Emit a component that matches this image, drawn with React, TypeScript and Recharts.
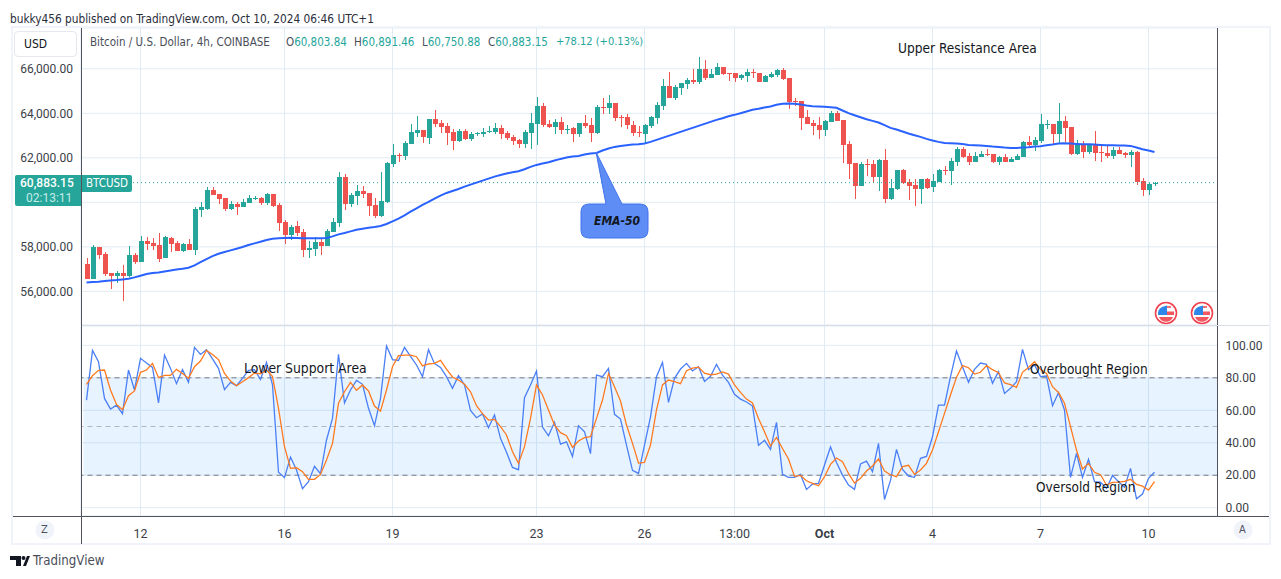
import { ComposedChart, Bar, Line, XAxis, YAxis, CartesianGrid, ReferenceArea, ReferenceLine } from 'recharts';

const opens = [
  57225, 56550, 57975, 57675, 56820, 56685, 56820, 56685, 57630, 57315,
  58260, 58170, 58080, 57495, 58395, 58170, 57810, 58125, 57855, 59655,
  59700, 60555, 60375, 60195, 59700, 59925, 59790, 59970, 60150, 60195,
  59970, 60375, 59880, 59115, 58530, 58935, 58665, 57855, 57900, 58215,
  58035, 58665, 59070, 61140, 59925, 60285, 60510, 60420, 59880, 59385,
  60015, 61725, 62130, 62085, 62625, 63120, 63255, 62895, 63750, 63570,
  63435, 63165, 62760, 63210, 62850, 63060, 63075, 63165, 63165, 63345,
  63120, 62940, 62805, 62625, 63120, 63525, 64335, 63525, 63390, 63615,
  63285, 63345, 63075, 63570, 63480, 63120, 64290, 64245, 64470, 63840,
  63840, 63480, 63165, 63075, 63435, 63795, 64335, 65235, 64695, 65145,
  65325, 65505, 65415, 66000, 65595, 65730, 66090, 65820, 65820, 65595,
  65685, 65850, 65820, 65415, 65640, 65730, 65955, 65595, 64560, 64560,
  63840, 63570, 63480, 63255, 63615, 64020, 63705, 62625, 61770, 60735,
  61725, 61725, 61140, 61905, 60150, 60600, 61455, 60915, 60780, 60600,
  61050, 60690, 60915, 61455, 61410, 61815, 62400, 62085, 61815, 62040,
  62175, 62175, 61815, 62040, 61815, 61905, 62040, 62715, 62580, 62760,
  63480, 63525, 63075, 63660, 63390, 62175, 62625, 62265, 62580, 62265,
  62220, 62085, 62355, 62220, 62130, 62265, 60960, 60555, 60803.84,
];

const highs = [
  57495, 58080, 58005, 57765, 56820, 56895, 57180, 58035, 57705, 58485,
  58440, 58395, 58620, 58485, 58440, 58260, 58170, 58350, 59790, 60015,
  60675, 60675, 60375, 60195, 60060, 60015, 60150, 60330, 60285, 60240,
  60420, 60375, 59970, 59205, 58980, 59160, 58785, 58260, 58440, 58395,
  58800, 59295, 61365, 61275, 60420, 60780, 60735, 60420, 60195, 61365,
  61815, 62625, 62220, 62760, 63525, 63885, 63255, 63750, 64155, 63705,
  63570, 63300, 63300, 63300, 63165, 63165, 63345, 63435, 63570, 63480,
  63210, 63030, 62850, 63255, 64020, 64740, 64470, 63705, 63750, 63840,
  63480, 63390, 63570, 63930, 63795, 64380, 64695, 64830, 64470, 63930,
  63975, 63660, 63435, 63525, 63885, 64515, 65550, 65865, 65280, 65370,
  65595, 66000, 66540, 66405, 66000, 66270, 66090, 65820, 65820, 65775,
  66000, 66000, 65820, 65730, 65865, 66000, 66045, 65595, 64695, 64560,
  64155, 63705, 63840, 63705, 64110, 64110, 63705, 62760, 61770, 61815,
  61950, 61905, 61950, 62400, 61050, 61455, 61500, 61050, 61050, 61050,
  61095, 61275, 61500, 61635, 61995, 62490, 62490, 62220, 62265, 62310,
  62400, 62175, 62085, 62175, 62040, 62175, 62760, 62985, 62940, 63975,
  63705, 63525, 64470, 63885, 63390, 62805, 62760, 62625, 63210, 62580,
  62535, 62490, 62490, 62265, 62355, 62310, 61095, 60870, 60891.46,
];

const lows = [
  56550, 56550, 57450, 56700, 56100, 56385, 55560, 56625, 57240, 57315,
  57855, 57855, 57315, 57495, 57765, 57810, 57765, 57855, 57630, 59340,
  59655, 60330, 59925, 59610, 59655, 59430, 59790, 59970, 60105, 59880,
  59880, 59775, 58710, 58125, 58305, 58485, 57540, 57495, 57585, 57630,
  58035, 58665, 58890, 59655, 59790, 59880, 60195, 59385, 59295, 59355,
  59955, 61590, 61815, 61905, 62625, 62940, 62670, 62625, 63390, 63120,
  62580, 62355, 62715, 62805, 62760, 62985, 62940, 63120, 63075, 62850,
  62805, 62580, 62445, 62445, 62400, 62580, 63390, 63345, 63075, 63075,
  63075, 62715, 62940, 63345, 62715, 63075, 63975, 63975, 63660, 63390,
  63300, 62985, 62940, 62670, 63345, 63525, 64155, 64695, 64605, 64830,
  65100, 65325, 65325, 65505, 65595, 65730, 65730, 65460, 65415, 65505,
  65415, 65595, 65415, 65415, 65595, 65640, 65505, 64200, 64335, 63255,
  63525, 63030, 62850, 62985, 63615, 63660, 61770, 61050, 60150, 60735,
  61185, 60870, 60510, 59970, 60105, 60555, 60825, 60105, 59835, 59925,
  60600, 60465, 60915, 61230, 60780, 61635, 61995, 61680, 61815, 62040,
  62085, 61770, 61680, 61815, 61815, 61905, 62040, 62535, 62310, 62670,
  63300, 62625, 62670, 62715, 62130, 62130, 61995, 62175, 61860, 61815,
  61995, 61950, 62175, 61995, 61590, 60780, 60285, 60330, 60750.88,
];

const closes = [
  56550, 58005, 57645, 56775, 56685, 56820, 56685, 57630, 57315, 58260,
  58125, 58035, 57450, 58440, 58125, 57810, 58125, 57855, 59700, 59790,
  60555, 60330, 60150, 59700, 59925, 59790, 60015, 60195, 60180, 59970,
  60375, 59835, 59070, 58530, 58890, 58620, 57855, 57945, 58215, 58035,
  58710, 59115, 61140, 59925, 60330, 60510, 60375, 59835, 59385, 60060,
  61770, 62130, 62100, 62670, 63165, 63255, 62940, 63750, 63525, 63390,
  63120, 62760, 63210, 62850, 63075, 63120, 63165, 63210, 63345, 63075,
  62895, 62760, 62625, 63165, 63570, 64335, 63480, 63390, 63615, 63255,
  63315, 63075, 63570, 63435, 63120, 64290, 64245, 64470, 63795, 63795,
  63480, 63120, 63135, 63480, 63840, 64380, 65235, 64695, 65190, 65370,
  65505, 65415, 66000, 65595, 65775, 66090, 65775, 65790, 65595, 65730,
  65865, 65820, 65415, 65685, 65775, 65955, 65550, 64515, 64530, 63795,
  63525, 63435, 63255, 63660, 64020, 63660, 62580, 61725, 60735, 61725,
  61695, 61140, 61905, 60150, 60645, 61455, 60855, 60735, 60600, 61050,
  60645, 60960, 61455, 61425, 61860, 62400, 62040, 61815, 62085, 62175,
  62130, 61815, 62040, 61815, 61950, 62085, 62715, 62580, 62805, 63525,
  63525, 63075, 63660, 63345, 62175, 62625, 62265, 62580, 62220, 62235,
  62085, 62355, 62175, 62130, 62265, 60915, 60555, 60825, 60883.15,
];

const ema50 = [
  56400, 56415, 56430, 56460, 56490, 56505, 56535, 56565, 56625, 56700,
  56775, 56820, 56850, 56895, 56940, 56985, 57015, 57060, 57165, 57315,
  57450, 57585, 57690, 57765, 57840, 57915, 57990, 58080, 58155, 58230,
  58305, 58365, 58380, 58395, 58410, 58395, 58380, 58380, 58380, 58380,
  58395, 58470, 58560, 58620, 58695, 58770, 58815, 58860, 58890, 58935,
  59025, 59145, 59265, 59415, 59580, 59730, 59880, 60015, 60165, 60300,
  60420, 60510, 60600, 60705, 60795, 60885, 60975, 61065, 61155, 61230,
  61290, 61350, 61395, 61485, 61590, 61680, 61740, 61800, 61875, 61950,
  62010, 62055, 62085, 62145, 62190, 62220, 62325, 62415, 62490, 62535,
  62565, 62595, 62610, 62640, 62715, 62805, 62895, 62985, 63075, 63165,
  63255, 63345, 63435, 63525, 63615, 63705, 63780, 63870, 63930, 64005,
  64080, 64155, 64200, 64260, 64305, 64380, 64425, 64440, 64425, 64395,
  64350, 64320, 64305, 64290, 64275, 64245, 64125, 64005, 63915, 63825,
  63735, 63660, 63585, 63465, 63345, 63270, 63180, 63090, 63015, 62940,
  62850, 62775, 62715, 62670, 62655, 62640, 62625, 62580, 62565, 62550,
  62535, 62505, 62490, 62460, 62445, 62445, 62460, 62475, 62505, 62520,
  62565, 62595, 62640, 62655, 62640, 62625, 62610, 62610, 62595, 62580,
  62565, 62565, 62550, 62550, 62535, 62460, 62385, 62325, 62265,
];

const stochK = [
  66.3, 96.9, 89.9, 67.3, 60.8, 63.2, 57.9, 84.8, 72.5, 92.0,
  89.1, 86.4, 64.5, 94.0, 85.8, 76.4, 85.0, 77.2, 98.7, 94.4,
  97.3, 91.6, 85.8, 72.7, 77.2, 75.1, 79.7, 84.6, 85.0, 79.0,
  89.5, 75.6, 21.8, 18.5, 31.2, 23.2, 11.7, 16.0, 25.5, 20.9,
  41.7, 55.0, 94.4, 64.5, 72.5, 78.4, 76.0, 61.2, 50.5, 67.3,
  99.6, 91.2, 90.7, 98.7, 93.2, 87.9, 80.7, 97.3, 88.7, 86.4,
  80.7, 73.5, 81.3, 75.6, 59.9, 55.4, 57.7, 49.3, 57.1, 42.7,
  34.1, 24.8, 23.4, 67.7, 75.6, 84.2, 49.7, 44.3, 52.6, 39.2,
  40.6, 31.6, 50.5, 46.8, 33.3, 81.7, 80.7, 85.8, 57.5, 54.6,
  38.6, 23.0, 21.1, 38.6, 56.0, 80.7, 89.5, 64.9, 79.7, 85.4,
  88.9, 84.2, 86.8, 77.8, 80.9, 88.3, 81.7, 77.2, 69.8, 66.9,
  65.1, 62.6, 38.4, 41.5, 35.9, 52.6, 20.5, 18.7, 18.7, 20.5,
  11.3, 14.6, 15.0, 26.3, 37.4, 27.9, 20.1, 14.0, 11.3, 26.9,
  28.7, 22.2, 39.6, 5.1, 16.8, 35.9, 23.6, 19.5, 18.7, 30.4,
  31.6, 43.7, 63.2, 63.2, 80.7, 96.5, 86.8, 77.2, 85.2, 89.1,
  88.3, 76.6, 83.8, 70.4, 73.5, 77.6, 97.5, 85.0, 87.9, 80.7,
  81.1, 62.8, 70.8, 60.2, 18.7, 33.5, 18.7, 29.8, 16.0, 15.8,
  11.9, 19.9, 16.0, 12.5, 24.2, 5.5, 8.4, 18.1, 21.8,
];

const stochD = [
  76.0, 81.3, 84.6, 84.8, 72.5, 63.6, 60.4, 69.0, 71.9, 83.4,
  84.8, 88.9, 80.1, 81.5, 81.5, 85.2, 82.7, 79.7, 86.8, 90.3,
  96.9, 94.4, 91.2, 82.7, 78.0, 75.1, 77.6, 80.1, 82.9, 82.5,
  84.8, 80.7, 61.2, 37.6, 24.2, 24.6, 22.2, 17.5, 17.5, 20.5,
  29.4, 39.6, 64.3, 71.4, 77.2, 72.3, 75.6, 71.9, 62.6, 59.5,
  72.5, 86.8, 93.6, 94.0, 94.0, 93.0, 87.3, 88.5, 88.9, 90.7,
  85.4, 80.5, 78.6, 76.0, 71.4, 62.8, 57.9, 54.0, 54.4, 49.9,
  44.8, 34.5, 27.3, 37.6, 55.0, 75.6, 69.4, 60.2, 50.9, 46.2,
  44.3, 37.2, 41.1, 43.1, 43.7, 55.0, 66.3, 82.7, 74.5, 65.7,
  50.9, 39.6, 27.5, 27.9, 38.6, 60.2, 75.6, 78.6, 77.6, 76.4,
  84.4, 86.0, 86.6, 82.9, 81.9, 82.3, 83.6, 82.3, 75.6, 71.0,
  66.9, 64.5, 55.0, 46.8, 38.0, 43.3, 36.5, 30.0, 19.3, 19.9,
  16.6, 15.0, 13.5, 19.1, 26.7, 30.6, 28.3, 21.1, 15.2, 18.1,
  22.6, 25.7, 30.0, 22.6, 20.3, 19.1, 25.3, 26.1, 20.5, 23.2,
  27.3, 35.5, 46.8, 58.1, 69.4, 80.3, 87.5, 86.2, 82.3, 83.4,
  87.5, 85.0, 83.1, 76.8, 75.8, 74.1, 83.4, 86.4, 89.9, 85.2,
  82.7, 74.5, 71.0, 64.3, 49.9, 35.5, 23.8, 27.3, 21.8, 20.3,
  14.0, 15.6, 15.8, 16.2, 17.5, 14.4, 13.3, 10.9, 16.0,
];

const priceTicks = [56000, 58000, 60000, 62000, 64000, 66000];
const oscTicks = [0, 20, 40, 60, 80, 100];
const timeTickIndexes = [9, 33, 51, 75, 93, 108, 123, 141, 159, 177];
const timeTickLabels = ['12', '16', '19', '23', '26', '13:00', 'Oct', '4', '7', '10'];

const GREEN = '#26a69a';
const RED = '#ef5350';
const GRID = '#e1ebf3';
const AXIS_LINE = '#50535e';
const TEXT = '#131722';
const UI_FONT = '"DejaVu Sans Condensed", "DejaVu Sans", sans-serif';
const AXIS_FONT = 'Roboto, sans-serif';
const EMPTY_BARS = 10;

const rows = [...opens, ...Array(EMPTY_BARS).fill(null)].map((o, i) => ({
  i,
  o,
  h: o === null ? null : highs[i],
  l: o === null ? null : lows[i],
  c: o === null ? null : closes[i],
  ema: o === null ? null : ema50[i],
  k: o === null ? null : stochK[i],
  d: o === null ? null : stochD[i],
}));

const fmtPrice = (v: number) =>
  v.toLocaleString('en-US', { minimumFractionDigits: 2, maximumFractionDigits: 2 });

// the last price badge sits on top of the 60,000 label, so only its grid line shows
const fmtPriceTick = (v: number) => (v === 60000 ? '' : fmtPrice(v));

// wick + body, Bar hands us the low..high box from its own scale
function Candle(props: any) {
  const { x, y, width, height, payload } = props;
  if (payload.o === null || !height) return null;
  const top = Math.min(y, y + height);
  const pxPerUnit = Math.abs(height) / (payload.h - payload.l);
  const toY = (v: number) => top + (payload.h - v) * pxPerUnit;
  const color = payload.c >= payload.o ? GREEN : RED;
  const bodyTop = Math.round(toY(Math.max(payload.o, payload.c)));
  const bodyBottom = Math.round(toY(Math.min(payload.o, payload.c)));
  const wickTop = Math.round(top);
  const wickBottom = Math.round(top + Math.abs(height));
  const left = Math.round(x);
  return (
    <g>
      <rect x={left + 2} y={wickTop} width={1} height={Math.max(wickBottom - wickTop, 1)} fill={color} />
      <rect x={left} y={bodyTop} width={width} height={Math.max(bodyBottom - bodyTop, 1)} fill={color} />
    </g>
  );
}

function TimeTick(props: any) {
  const { x, y, payload } = props;
  const label = timeTickLabels[timeTickIndexes.indexOf(payload.value)];
  return (
    <text
      x={x}
      y={y + 14}
      textAnchor="middle"
      fontFamily={AXIS_FONT}
      fontSize={12.5}
      fontWeight={label === 'Oct' ? 700 : 400}
      fill="#3b3e48"
    >
      {label}
    </text>
  );
}

function Flag({ cx, cy }: { cx: number; cy: number }) {
  return (
    <g>
      <circle cx={cx} cy={cy} r={10.5} fill="#fff" stroke="#f0424f" strokeWidth={1.6} />
      <path d={`M${cx - 7} ${cy + 4}h14a7.5 7.5 0 0 1 -14 0z`} fill="#f0575f" />
      <rect x={cx + 1} y={cy - 1.5} width={7} height={3.5} fill="#f0575f" />
      <rect x={cx + 1} y={cy - 7} width={4} height={2} fill="#f0757b" />
      <path d={`M${cx + 1} ${cy - 7.5}v9.5h-9a8 8 0 0 1 4 -8z`} fill="#2e86e8" />
    </g>
  );
}

function Label({ x, y, children, color = TEXT, size = 12, style = {} }: any) {
  return (
    <div
      style={{
        position: 'absolute',
        left: x,
        top: y,
        color,
        fontSize: size,
        fontFamily: UI_FONT,
        lineHeight: '16px',
        whiteSpace: 'nowrap',
        ...style,
      }}
    >
      {children}
    </div>
  );
}

const legendValues = [
  { x: 286, head: 'O', value: '60,803.84' },
  { x: 354, head: 'H', value: '60,891.46' },
  { x: 422, head: 'L', value: '60,750.88' },
  { x: 488, head: 'C', value: '60,883.15' },
];

export default function App() {
  return (
    <div style={{ position: 'fixed', left: 0, top: 0, width: 1281, height: 579, background: '#fff', overflow: 'hidden' }}>
      {/* price pane */}
      <div style={{ position: 'absolute', left: 0, top: 0 }}>
        <ComposedChart
          width={1281}
          height={325}
          data={rows}
          margin={{ top: 28, right: 63.5, bottom: 0, left: 0 }}
          barSize={5}
        >
          <CartesianGrid stroke={GRID} strokeWidth={1} />
          <XAxis dataKey="i" hide scale="band" ticks={timeTickIndexes} interval={0} padding={{ left: 2.5, right: 0 }} />
          <YAxis
            width={81}
            domain={[54486, 67833]}
            ticks={priceTicks}
            tickFormatter={fmtPriceTick}
            axisLine={false}
            tickLine={false}
            tickMargin={2}
            allowDataOverflow
            tick={{ fontFamily: AXIS_FONT, fontSize: 12, fill: '#3b3e48' }}
          />
          <ReferenceLine y={60883.15} stroke={GREEN} strokeDasharray="1 3" />
          <Bar dataKey={(r: any) => (r.o === null ? null : [r.l, r.h])} shape={Candle} isAnimationActive={false} />
          <Line dataKey="ema" stroke="#2962ff" strokeWidth={2} dot={false} isAnimationActive={false} />
        </ComposedChart>
      </div>

      {/* oscillator pane */}
      <div style={{ position: 'absolute', left: 0, top: 0 }}>
        <ComposedChart
          width={1281}
          height={544}
          data={rows}
          margin={{ top: 326, right: 0, bottom: 0, left: 81 }}
        >
          <CartesianGrid stroke={GRID} strokeWidth={1} />
          <XAxis
            dataKey="i"
            height={28}
            scale="band"
            ticks={timeTickIndexes}
            interval={0}
            padding={{ left: 2.5, right: 0 }}
            axisLine={false}
            tickLine={false}
            tick={TimeTick}
          />
          <YAxis
            orientation="right"
            width={63.5}
            domain={[-5.1, 111.9]}
            ticks={oscTicks}
            tickFormatter={fmtPrice}
            axisLine={false}
            tickLine={false}
            tickMargin={2}
            allowDataOverflow
            tick={{ fontFamily: AXIS_FONT, fontSize: 12, fill: '#3b3e48' }}
          />
          <ReferenceArea y1={20} y2={80} fill="#2196f3" fillOpacity={0.11} stroke="none" />
          <ReferenceLine y={80} stroke="#787b86" strokeDasharray="5 4" />
          <ReferenceLine y={50} stroke="#b2b5be" strokeDasharray="5 4" />
          <ReferenceLine y={20} stroke="#787b86" strokeDasharray="5 4" />
          <Line dataKey="k" stroke="#4a7ff5" strokeWidth={1.3} dot={false} isAnimationActive={false} />
          <Line dataKey="d" stroke="#ff7a1f" strokeWidth={1.3} dot={false} isAnimationActive={false} />
        </ComposedChart>
      </div>

      {/* frame, callout, flags */}
      <svg width={1281} height={579} style={{ position: 'absolute', left: 0, top: 0, pointerEvents: 'none' }}>
        <rect x={12} y={27} width={1258} height={517} fill="none" stroke="#f0f3fa" strokeWidth={2} />
        <line x1={81.5} y1={28} x2={81.5} y2={544} stroke={AXIS_LINE} />
        <line x1={1217.5} y1={28} x2={1217.5} y2={516} stroke={AXIS_LINE} />
        <line x1={13} y1={516.5} x2={1269} y2={516.5} stroke={AXIS_LINE} />
        <line x1={82} y1={325.5} x2={1269} y2={325.5} stroke="#d9dde6" />
        <path
          d="M596 152 L606 204 L589 204 Q581 204 581 212 L581 230 Q581 238 589 238 L640 238 Q648 238 648 230 L648 212 Q648 204 640 204 L622 204 Z"
          fill="#5e8df5"
          stroke="#3f73ee"
        />
        <Flag cx={1166} cy={313} />
        <Flag cx={1202} cy={313} />
        <circle cx={45} cy={530} r={9.5} fill="#f0f3fa" />
        <circle cx={1243} cy={530} r={9.5} fill="#f0f3fa" />
        <path d="M10 556h11v10h-5v-6h-6z M23 566l4-10h3l-4 10z" fill="#131722" />
        <circle cx={23.5} cy={558} r={2} fill="#131722" />
      </svg>

      <Label x={10} y={11} size={11.75} color="#2a2e39">bukky456 published on TradingView.com, Oct 10, 2024 06:46 UTC+1</Label>

      <div style={{ position: 'absolute', left: 14, top: 31, width: 63, height: 26, border: '1px solid #e6e8ee', borderRadius: 4, boxSizing: 'border-box' }} />
      <Label x={24} y={36} size={12} color="#131722">USD</Label>

      <Label x={90} y={34} size={11.5} color="#4a4e59">Bitcoin / U.S. Dollar, 4h, COINBASE</Label>
      {legendValues.map((v) => (
        <Label key={v.head} x={v.x} y={34} size={11.5} color={GREEN}>
          <span style={{ color: '#4a4e59' }}>{v.head}</span>
          {v.value}
        </Label>
      ))}
      <Label x={556} y={34} size={11} color={GREEN}>+78.12 (+0.13%)</Label>

      {/* last price badges */}
      <div style={{ position: 'absolute', left: 15, top: 175, width: 66, height: 31, background: GREEN, borderRadius: '2px 0 0 2px' }} />
      <Label x={20} y={175} size={12} color="#fff" style={{ fontFamily: AXIS_FONT, fontWeight: 500 }}>60,883.15</Label>
      <Label x={26} y={190} size={12} color="#c4ebe7" style={{ fontFamily: AXIS_FONT }}>02:13:11</Label>
      <div style={{ position: 'absolute', left: 82, top: 175, width: 50, height: 17, background: GREEN, borderRadius: '0 2px 2px 0' }} />
      <Label x={86} y={175} size={11.5} color="#fff">BTCUSD</Label>

      <Label x={594} y={213} size={12} color={TEXT} style={{ fontStyle: 'italic', fontWeight: 700 }}>EMA-50</Label>

      <Label x={898} y={40} size={13.6}>Upper Resistance Area</Label>
      <Label x={244} y={360} size={13.8}>Lower Support Area</Label>
      <Label x={1030} y={361} size={13.5}>Overbought Region</Label>
      <Label x={1036} y={479} size={13.5}>Oversold Region</Label>

      <Label x={41} y={522} size={11} color="#50535e">Z</Label>
      <Label x={1239} y={522} size={11} color="#50535e">A</Label>
      <Label x={33} y={553} size={13.2} color="#4a4e59">TradingView</Label>
    </div>
  );
}
